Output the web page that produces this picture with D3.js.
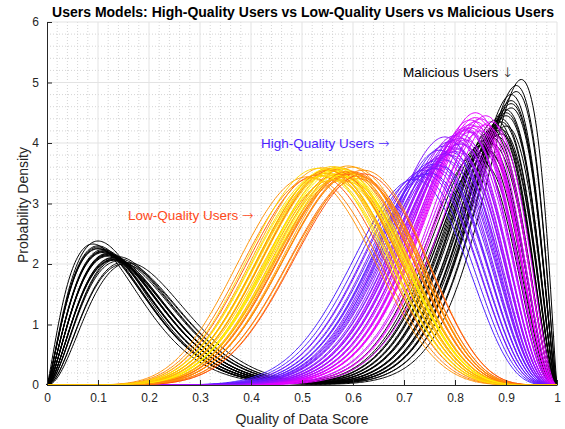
<!DOCTYPE html>
<html>
<head>
<meta charset="utf-8">
<script src="https://cdn.jsdelivr.net/npm/d3@7"></script>
<style>
  body { margin: 0; background: #fff; }
  text { font-family: "Liberation Sans", Arial, sans-serif; }
  .arrow { font-family: "DejaVu Sans", sans-serif; font-weight: 200; }
</style>
</head>
<body>
<div id="chart"></div>
<script>
var svgWidth = 565;
var svgHeight = 429;
var margin = { top: 22, right: 8, bottom: 44, left: 47 };
var chartWidth = svgWidth - margin.left - margin.right;
var chartHeight = svgHeight - margin.top - margin.bottom;

// tick labels
var xTicks = [0, 0.1, 0.2, 0.3, 0.4, 0.5, 0.6, 0.7, 0.8, 0.9, 1];
var yTicks = [0, 1, 2, 3, 4, 5, 6];

// each curve: mode (x of peak) and peak height, colour tint 0..1
var lowModes = [0.55,0.57,0.60,0.52,0.58,0.56,0.61,0.54,0.59,0.57,0.53,0.62,0.56,0.58,0.55,0.60,0.57,0.51,0.59,0.56,0.58,0.54,0.61,0.57,0.55,0.59,0.53,0.58,0.56,0.60,0.57,0.55,0.62,0.58,0.54,0.59,0.56,0.57,0.60,0.55];
var lowPeaks = [3.55,3.48,3.60,3.42,3.52,3.58,3.45,3.50,3.62,3.40,3.47,3.55,3.53,3.38,3.57,3.49,3.60,3.44,3.51,3.56,3.46,3.59,3.41,3.54,3.50,3.48,3.58,3.43,3.61,3.52,3.46,3.55,3.49,3.57,3.45,3.53,3.39,3.58,3.50,3.47];
var lowTint = [0.9,0.1,0.5,0.3,0.95,0.6,0.2,0.8,0.45,0.7,0.05,0.35,0.85,0.55,1.0,0.25,0.65,0.4,0.75,0.15,0.9,0.5,0.3,0.95,0.6,0.1,0.8,0.45,0.7,0.2,1.0,0.35,0.0,0.55,0.85,0.25,0.65,0.9,0.4,0.75];

var highModes = [0.84,0.78,0.82,0.75,0.86,0.80,0.73,0.83,0.79,0.85,0.77,0.81,0.76,0.84,0.80,0.72,0.82,0.78,0.86,0.74,0.83,0.79,0.81,0.77,0.85,0.80,0.76,0.82,0.84,0.78,0.75,0.83,0.81,0.79,0.87,0.77,0.80,0.82,0.74,0.84,0.78,0.81,0.76,0.83,0.80];
var highPeaks = [4.50,3.95,4.20,3.60,4.45,4.05,3.45,4.30,3.85,4.40,3.75,4.15,3.70,4.35,3.90,3.40,4.25,4.10,4.30,3.55,4.38,3.80,4.00,3.88,4.20,4.12,3.65,4.05,4.28,3.72,3.50,4.18,3.98,4.02,4.35,3.62,3.92,4.22,3.48,4.42,3.82,4.08,3.58,4.25,3.86];
var highTint = [0.95,0.1,0.7,0.3,0.9,0.5,0.05,0.8,0.2,0.85,0.4,0.6,0.15,0.9,0.55,0.0,0.75,0.35,1.0,0.25,0.85,0.45,0.65,0.2,0.8,0.6,0.1,0.7,0.95,0.3,0.05,0.75,0.5,0.4,0.9,0.15,0.55,0.7,0.2,1.0,0.35,0.65,0.25,0.85,0.45];

var malLowModes = [0.10,0.12,0.14,0.11,0.13,0.09,0.15,0.12,0.10,0.13,0.11,0.14,0.12,0.10,0.16,0.11,0.13,0.12,0.10,0.14,0.11,0.13,0.12,0.15,0.11,0.12,0.13,0.10];
var malLowPeaks = [2.38,2.15,2.05,2.20,2.10,2.33,2.00,2.18,2.25,2.08,2.22,2.12,2.14,2.30,2.02,2.19,2.06,2.16,2.28,2.09,2.24,2.11,2.17,2.03,2.21,2.13,2.07,2.26];
var malHighModes = [0.93,0.92,0.91,0.90,0.89,0.88,0.87,0.86,0.85,0.91,0.90,0.89,0.88,0.87,0.92,0.86,0.90,0.89,0.88,0.91,0.87,0.84,0.90,0.89,0.86,0.88,0.85,0.91];
var malHighPeaks = [5.05,4.95,4.80,4.55,4.40,4.30,4.20,4.05,3.95,4.65,4.45,4.35,4.25,4.10,4.85,3.90,4.50,4.15,4.38,4.70,4.00,3.80,4.28,4.22,3.88,4.12,3.70,4.58];

var svg = d3.select("#chart").append("svg")
    .attr("width", svgWidth)
    .attr("height", svgHeight);

var chartGroup = svg.append("g")
    .attr("transform", `translate(${margin.left},${margin.top})`);

var xScale = d3.scaleLinear().domain([0, 1]).range([0, chartWidth]);
var yScale = d3.scaleLinear().domain([0, 6]).range([chartHeight, 0]);

// minor grid (dotted)
chartGroup.append("g").selectAll("line")
    .data(d3.range(1, 50).map(i => i / 50).filter(v => Math.round(v * 50) % 5 != 0))
    .enter().append("line")
    .attr("x1", d => xScale(d)).attr("x2", d => xScale(d))
    .attr("y1", 0).attr("y2", chartHeight)
    .attr("stroke", "#d4d4d4").attr("stroke-dasharray", "1,2");
chartGroup.append("g").selectAll("line")
    .data(d3.range(1, 30).map(i => i / 5).filter(v => Math.abs(v - Math.round(v)) > 0.01))
    .enter().append("line")
    .attr("y1", d => yScale(d)).attr("y2", d => yScale(d))
    .attr("x1", 0).attr("x2", chartWidth)
    .attr("stroke", "#d4d4d4").attr("stroke-dasharray", "1,2");

// major grid
chartGroup.append("g").selectAll("line")
    .data(xTicks.slice(1))
    .enter().append("line")
    .attr("x1", d => xScale(d)).attr("x2", d => xScale(d))
    .attr("y1", 0).attr("y2", chartHeight)
    .attr("stroke", "#e3e3e3");
chartGroup.append("g").selectAll("line")
    .data(yTicks.slice(1))
    .enter().append("line")
    .attr("y1", d => yScale(d)).attr("y2", d => yScale(d))
    .attr("x1", 0).attr("x2", chartWidth)
    .attr("stroke", "#e3e3e3");

// beta-shaped bump scaled to its peak height
function bump(x, m, h, k) {
    if (x <= 0 || x >= 1) return 0;
    var p = m * k, q = (1 - m) * k;
    return h * Math.exp(p * Math.log(x / m) + q * Math.log((1 - x) / (1 - m)));
}

var xs = d3.range(0, 401).map(i => i / 400);
var line = d3.line().x(d => xScale(d[0])).y(d => yScale(d[1]));
var curves = chartGroup.append("g").attr("fill", "none").attr("stroke-width", 1);

// malicious users (bimodal)
malLowModes.forEach(function(m, i) {
    var pts = xs.map(x => [x, bump(x, m, malLowPeaks[i], 14) + bump(x, malHighModes[i], malHighPeaks[i], 18)]);
    curves.append("path").attr("d", line(pts)).attr("stroke", "#000");
});

var highColor = d3.interpolateRgb("#4b1eff", "#f000ff");
highModes.forEach(function(m, i) {
    var pts = xs.map(x => [x, bump(x, m, highPeaks[i], 16)]);
    curves.append("path").attr("d", line(pts)).attr("stroke", highColor(highTint[i]));
});

var lowColor = d3.interpolateRgb("#ff4d0d", "#ffff00");
lowModes.forEach(function(m, i) {
    var pts = xs.map(x => [x, bump(x, m, lowPeaks[i], 14)]);
    curves.append("path").attr("d", line(pts)).attr("stroke", lowColor(lowTint[i]));
});

// axes
var xAxis = d3.axisBottom(xScale).tickValues(xTicks).tickFormat(d3.format("")).tickSizeInner(-5).tickSizeOuter(0).tickPadding(8);
var yAxis = d3.axisLeft(yScale).tickValues(yTicks).tickFormat(d3.format("d")).tickSizeInner(-5).tickSizeOuter(0).tickPadding(8);

var gx = chartGroup.append("g").attr("transform", `translate(0,${chartHeight})`).call(xAxis);
var gy = chartGroup.append("g").call(yAxis);
[gx, gy].forEach(function(g) {
    g.select(".domain").attr("stroke", "#262626");
    g.selectAll(".tick line").attr("stroke", "#262626");
    g.selectAll("text").attr("fill", "#262626").style("font-size", "12px").style("font-family", "'Liberation Sans', Arial, sans-serif");
});

// titles
svg.append("text")
    .attr("x", margin.left + chartWidth / 2 + 1).attr("y", 17)
    .attr("text-anchor", "middle").style("font-size", "14px").style("font-weight", "bold")
    .text("Users Models: High-Quality Users vs Low-Quality Users vs Malicious Users");
svg.append("text")
    .attr("x", margin.left + chartWidth / 2).attr("y", 424)
    .attr("text-anchor", "middle").style("font-size", "14px").attr("fill", "#262626")
    .text("Quality of Data Score");
svg.append("text")
    .attr("transform", "translate(28,205) rotate(-90)")
    .attr("text-anchor", "middle").style("font-size", "14px").attr("fill", "#262626")
    .text("Probability Density");

// annotations
function note(x, y, color, label, arrow) {
    var t = svg.append("text").attr("x", x).attr("y", y).style("font-size", "13.5px").attr("fill", color);
    t.append("tspan").text(label + " ");
    t.append("tspan").attr("class", "arrow").text(arrow);
}
note(403, 77, "#000", "Malicious Users", "\u2193");
note(261, 148, "#4b1eff", "High-Quality Users", "\u2192");
note(128, 220, "#ff4a1a", "Low-Quality Users", "\u2192");
</script>
</body>
</html>
